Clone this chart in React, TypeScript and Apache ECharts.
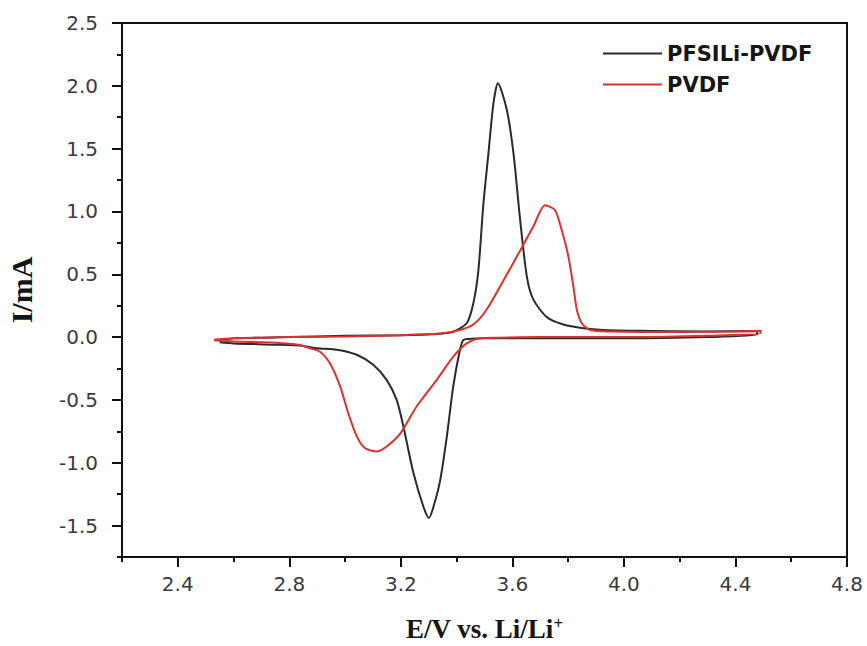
import React, { useEffect, useRef } from "react";
import * as echarts from "echarts";

// Axis ticks
const xMajorTicks = [2.4, 2.8, 3.2, 3.6, 4.0, 4.4, 4.8];
const xMinorTicks = [2.2, 2.6, 3.0, 3.4, 3.8, 4.2, 4.6];
const yMajorTicks = [-1.5, -1.0, -0.5, 0.0, 0.5, 1.0, 1.5, 2.0, 2.5];
const yMinorTicks = [-1.75, -1.25, -0.75, -0.25, 0.25, 0.75, 1.25, 1.75, 2.25];

const seriesNames = ["PFSILi-PVDF", "PVDF"];

// PFSILi-PVDF: forward (anodic) sweep, then reverse (cathodic) sweep  [E (V), I (mA)]
const pfsiliAnodic: [number, number][] = [
  [2.55, -0.03], [2.6, -0.01], [2.8, 0.0], [3.0, 0.01], [3.2, 0.015], [3.33, 0.025],
  [3.388, 0.043], [3.436, 0.11], [3.46, 0.27], [3.478, 0.53], [3.496, 1.06], [3.514, 1.46],
  [3.532, 1.86], [3.548, 2.02], [3.58, 1.81], [3.604, 1.46], [3.628, 0.93], [3.652, 0.48],
  [3.675, 0.3], [3.723, 0.16], [3.783, 0.1], [3.855, 0.07], [3.926, 0.056], [4.05, 0.05],
  [4.3, 0.045], [4.478, 0.048],
];
const pfsiliCathodic: [number, number][] = [
  [4.478, 0.02], [4.3, 0.0], [4.0, -0.01], [3.7, -0.01], [3.5, -0.01], [3.44, -0.015],
  [3.424, -0.023], [3.412, -0.1], [3.388, -0.39], [3.365, -0.79], [3.341, -1.14],
  [3.317, -1.35], [3.301, -1.44], [3.281, -1.35], [3.245, -1.08], [3.209, -0.71],
  [3.185, -0.5], [3.149, -0.34], [3.101, -0.22], [3.042, -0.14], [2.97, -0.1],
  [2.898, -0.089], [2.85, -0.07], [2.75, -0.06], [2.6, -0.05], [2.55, -0.04],
];

// PVDF
const pvdfAnodic: [number, number][] = [
  [2.53, -0.02], [2.6, -0.01], [2.8, 0.0], [3.0, 0.005], [3.2, 0.015], [3.35, 0.03],
  [3.412, 0.056], [3.46, 0.1], [3.508, 0.22], [3.568, 0.45], [3.628, 0.69], [3.675, 0.88],
  [3.717, 1.05], [3.753, 1.01], [3.777, 0.85], [3.801, 0.64], [3.819, 0.4], [3.831, 0.22],
  [3.849, 0.11], [3.879, 0.056], [3.95, 0.045], [4.2, 0.04], [4.4, 0.045], [4.49, 0.05],
];
const pvdfCathodic: [number, number][] = [
  [4.49, 0.03], [4.3, 0.01], [4.0, 0.0], [3.7, 0.0], [3.55, -0.005], [3.484, -0.01],
  [3.436, -0.05], [3.388, -0.156], [3.329, -0.34], [3.257, -0.55], [3.197, -0.77],
  [3.149, -0.87], [3.114, -0.91], [3.072, -0.885], [3.042, -0.79], [3.012, -0.61],
  [2.982, -0.39], [2.946, -0.21], [2.91, -0.116], [2.874, -0.089], [2.838, -0.063],
  [2.75, -0.045], [2.6, -0.035], [2.53, -0.025],
];

const BLACK = "#2a2a2a";
const RED = "#dd3030";
const LABEL_FONT = "DejaVu Sans";
const TITLE_FONT = "Liberation Serif";

export default function App() {
  const ref = useRef<HTMLDivElement>(null);

  useEffect(() => {
    if (!ref.current) return;
    const chart = echarts.init(ref.current, undefined, { renderer: "svg" });
    const axisMin = { x: 2.2, xMax: 4.8, y: -1.75, yMax: 2.5 };

    const option: any = {
      animation: false,
      backgroundColor: "#ffffff",
      grid: {
        left: 122,
        right: 20,
        top: 23,
        bottom: 89,
        show: true,
        borderColor: "#111",
        borderWidth: 2,
        backgroundColor: "transparent",
        containLabel: false,
        outerBoundsMode: "none",
      },
      legend: {
        orient: "vertical",
        left: 598,
        top: 38,
        icon: "rect",
        itemWidth: 59,
        itemHeight: 2,
        itemGap: 10,
        data: seriesNames,
        textStyle: { fontSize: 21, fontWeight: "bold", fontFamily: LABEL_FONT, color: "#151515" },
      },
      xAxis: [
        {
          type: "value",
          min: axisMin.x,
          max: axisMin.xMax,
          position: "bottom",
          axisLine: { show: true, onZero: false, lineStyle: { color: "#111", width: 2 } },
          axisTick: {
            show: true,
            customValues: xMajorTicks,
            length: 10,
            lineStyle: { color: "#111", width: 2 },
          },
          axisLabel: {
            customValues: xMajorTicks,
            formatter: (v: number) => v.toFixed(1),
            fontSize: 20,
            fontFamily: LABEL_FONT,
            color: "#3a3a3a",
            margin: 17,
          },
          splitLine: { show: false },
          name: "{a|E/V vs. Li/Li}{b|+}",
          nameLocation: "middle",
          nameGap: 58,
          nameTextStyle: {
            rich: {
              a: { fontSize: 27, fontWeight: "bold", fontFamily: TITLE_FONT, color: "#151515", verticalAlign: "bottom" },
              b: { fontSize: 17, fontWeight: "bold", fontFamily: TITLE_FONT, color: "#151515", verticalAlign: "top" },
            },
          },
        },
        {
          type: "value",
          min: axisMin.x,
          max: axisMin.xMax,
          position: "bottom",
          axisLine: { show: false, onZero: false },
          axisTick: {
            show: true,
            customValues: xMinorTicks,
            length: 5,
            lineStyle: { color: "#111", width: 2 },
          },
          axisLabel: { show: false },
          splitLine: { show: false },
        },
      ],
      yAxis: [
        {
          type: "value",
          min: axisMin.y,
          max: axisMin.yMax,
          position: "left",
          axisLine: { show: true, onZero: false, lineStyle: { color: "#111", width: 2 } },
          axisTick: {
            show: true,
            customValues: yMajorTicks,
            length: 10,
            lineStyle: { color: "#111", width: 2 },
          },
          axisLabel: {
            customValues: yMajorTicks,
            formatter: (v: number) => v.toFixed(1),
            fontSize: 20,
            fontFamily: LABEL_FONT,
            color: "#3a3a3a",
            margin: 24,
          },
          splitLine: { show: false },
          name: "I/mA",
          nameLocation: "middle",
          nameGap: 86,
          nameTextStyle: { fontSize: 30, fontWeight: "bold", fontFamily: TITLE_FONT, color: "#151515" },
        },
        {
          type: "value",
          min: axisMin.y,
          max: axisMin.yMax,
          position: "left",
          axisLine: { show: false, onZero: false },
          axisTick: {
            show: true,
            customValues: yMinorTicks,
            length: 5,
            lineStyle: { color: "#111", width: 2 },
          },
          axisLabel: { show: false },
          splitLine: { show: false },
        },
      ],
      series: [
        {
          name: seriesNames[0],
          type: "line",
          xAxisIndex: 0,
          yAxisIndex: 0,
          data: [...pfsiliAnodic, ...pfsiliCathodic],
          symbol: "none",
          showSymbol: false,
          smooth: 0.25,
          lineStyle: { color: BLACK, width: 2 },
          itemStyle: { color: BLACK },
          z: 2,
        },
        {
          name: seriesNames[1],
          type: "line",
          xAxisIndex: 0,
          yAxisIndex: 0,
          data: [...pvdfAnodic, ...pvdfCathodic],
          symbol: "none",
          showSymbol: false,
          smooth: 0.25,
          lineStyle: { color: RED, width: 2 },
          itemStyle: { color: RED },
          z: 3,
        },
      ],
    };

    chart.setOption(option);
    return () => chart.dispose();
  }, []);

  return (
    <div
      ref={ref}
      style={{ position: "absolute", left: 0, top: 0, width: 867, height: 646 }}
    />
  );
}
